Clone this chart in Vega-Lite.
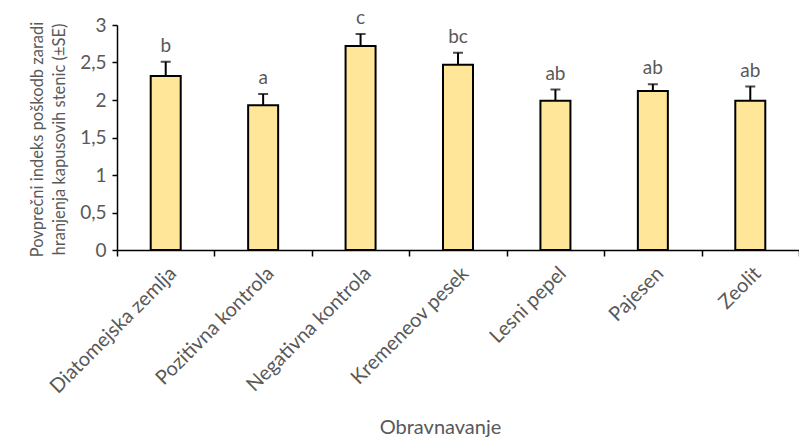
{
  "$schema": "https://vega.github.io/schema/vega-lite/v6.json",
  "autosize": "none",
  "padding": {"left": 117, "top": 25, "right": 0, "bottom": 189},
  "width": 682,
  "height": 225,
  "background": "white",
  "config": {
    "view": {"stroke": null},
    "font": "Lato",
    "axis": {"labelFont": "Lato", "titleFont": "Lato", "labelColor": "#595959", "titleColor": "#595959", "titleFontWeight": "normal", "domainColor": "black", "tickColor": "black", "domainWidth": 1.5, "tickWidth": 1.5, "grid": false},
    "axisY": {
      "tickCount": 6,
      "labelExpr": "replace(toString(datum.value), '.', ',')",
      "labelFontSize": 19,
      "labelPadding": 6,
      "tickSize": 5,
      "titleFontSize": 16.5,
      "titleLineHeight": 22,
      "titleAngle": -90,
      "titleX": -80,
      "titleY": 114,
      "titleAlign": "center",
      "titleBaseline": "middle"
    }
  },
  "data": {
    "values": [
      {"Obravnavanje": "Diatomejska zemlja", "Indeks": 2.32, "IndeksSE": 2.51, "Crka": "b"},
      {"Obravnavanje": "Pozitivna kontrola", "Indeks": 1.93, "IndeksSE": 2.08, "Crka": "a"},
      {"Obravnavanje": "Negativna kontrola", "Indeks": 2.72, "IndeksSE": 2.88, "Crka": "c"},
      {"Obravnavanje": "Kremeneov pesek", "Indeks": 2.47, "IndeksSE": 2.63, "Crka": "bc"},
      {"Obravnavanje": "Lesni pepel", "Indeks": 1.99, "IndeksSE": 2.14, "Crka": "ab"},
      {"Obravnavanje": "Pajesen", "Indeks": 2.12, "IndeksSE": 2.21, "Crka": "ab"},
      {"Obravnavanje": "Zeolit", "Indeks": 1.99, "IndeksSE": 2.18, "Crka": "ab"}
    ]
  },
  "encoding": {
    "x": {
      "field": "Obravnavanje",
      "type": "nominal",
      "sort": null,
      "scale": {"paddingInner": 0, "paddingOuter": 0},
      "axis": {
        "title": "Obravnavanje",
        "titleFontSize": 20,
        "titleX": 323,
        "titleY": 183,
        "titleBaseline": "alphabetic",
        "labelFontSize": 20,
        "labelAngle": -45,
        "labelAlign": "right",
        "labelBaseline": "top",
        "labelPadding": 7,
        "tickBand": "extent",
        "tickSize": 6
      }
    }
  },
  "layer": [
    {
      "mark": {"type": "rule", "color": "black", "strokeWidth": 2},
      "encoding": {
        "y": {
          "field": "Indeks",
          "type": "quantitative",
          "scale": {"domain": [0, 3], "nice": false},
          "title": ["Povprečni indeks poškodb zaradi", "hranjenja kapusovih stenic (±SE)"]
        },
        "y2": {"field": "IndeksSE"}
      }
    },
    {
      "mark": {"type": "tick", "color": "black", "thickness": 2, "size": 10},
      "encoding": {
        "y": {"field": "IndeksSE", "type": "quantitative"}
      }
    },
    {
      "mark": {"type": "bar", "size": 30, "fill": "#FFE699", "stroke": "black", "strokeWidth": 2},
      "encoding": {
        "y": {"field": "Indeks", "type": "quantitative"}
      }
    },
    {
      "mark": {"type": "text", "fontSize": 19, "color": "#595959", "baseline": "bottom", "dy": -6},
      "encoding": {
        "y": {"field": "IndeksSE", "type": "quantitative"},
        "text": {"field": "Crka"}
      }
    }
  ]
}
